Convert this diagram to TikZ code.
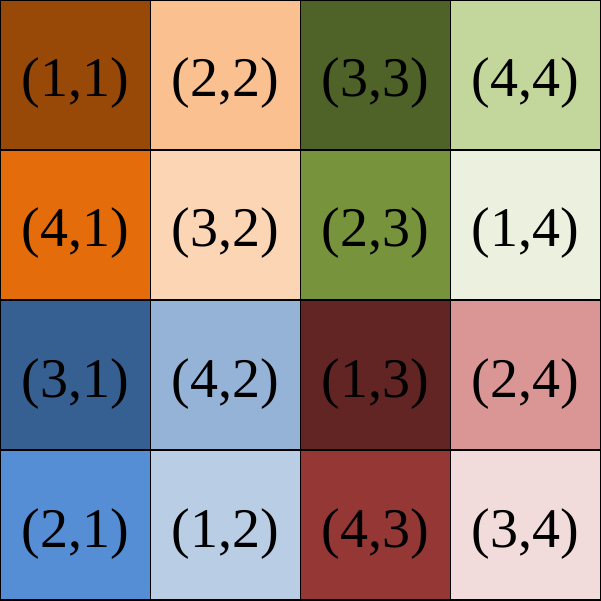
\documentclass[tikz,border=0pt]{standalone}
\usepackage{fontspec}
\setmainfont{Liberation Serif}
\definecolor{c11}{HTML}{984807}
\definecolor{c22}{HTML}{FAC090}
\definecolor{c33}{HTML}{4F6228}
\definecolor{c44}{HTML}{C3D69B}
\definecolor{c41}{HTML}{E46C0A}
\definecolor{c32}{HTML}{FCD5B5}
\definecolor{c23}{HTML}{77933C}
\definecolor{c14}{HTML}{EBF1DE}
\definecolor{c31}{HTML}{376092}
\definecolor{c42}{HTML}{95B3D7}
\definecolor{c13}{HTML}{632523}
\definecolor{c24}{HTML}{D99694}
\definecolor{c21}{HTML}{558ED5}
\definecolor{c12}{HTML}{B9CDE5}
\definecolor{c43}{HTML}{953735}
\definecolor{c34}{HTML}{F2DCDB}
\tikzset{cell/.style={draw=black,line width=1.2pt,minimum width=150pt,minimum height=150pt,inner sep=0pt,font=\fontsize{56}{56}\selectfont,text height=44pt,text depth=0pt,anchor=center}}
\begin{document}
\begin{tikzpicture}[x=1pt,y=1pt]
\useasboundingbox (0,0) rectangle (601,600);
\node[cell,fill=c11] (a11) at (75.5,525) {(1,1)};
\node[cell,fill=c22] (a12) at (225.5,525) {(2,2)};
\node[cell,fill=c33] (a13) at (375.5,525) {(3,3)};
\node[cell,fill=c44] (a14) at (525.5,525) {(4,4)};
\node[cell,fill=c41] (a21) at (75.5,375) {(4,1)};
\node[cell,fill=c32] (a22) at (225.5,375) {(3,2)};
\node[cell,fill=c23] (a23) at (375.5,375) {(2,3)};
\node[cell,fill=c14] (a24) at (525.5,375) {(1,4)};
\node[cell,fill=c31] (a31) at (75.5,225) {(3,1)};
\node[cell,fill=c42] (a32) at (225.5,225) {(4,2)};
\node[cell,fill=c13] (a33) at (375.5,225) {(1,3)};
\node[cell,fill=c24] (a34) at (525.5,225) {(2,4)};
\node[cell,fill=c21] (a41) at (75.5,75) {(2,1)};
\node[cell,fill=c12] (a42) at (225.5,75) {(1,2)};
\node[cell,fill=c43] (a43) at (375.5,75) {(4,3)};
\node[cell,fill=c34] (a44) at (525.5,75) {(3,4)};
\end{tikzpicture}
\end{document}
